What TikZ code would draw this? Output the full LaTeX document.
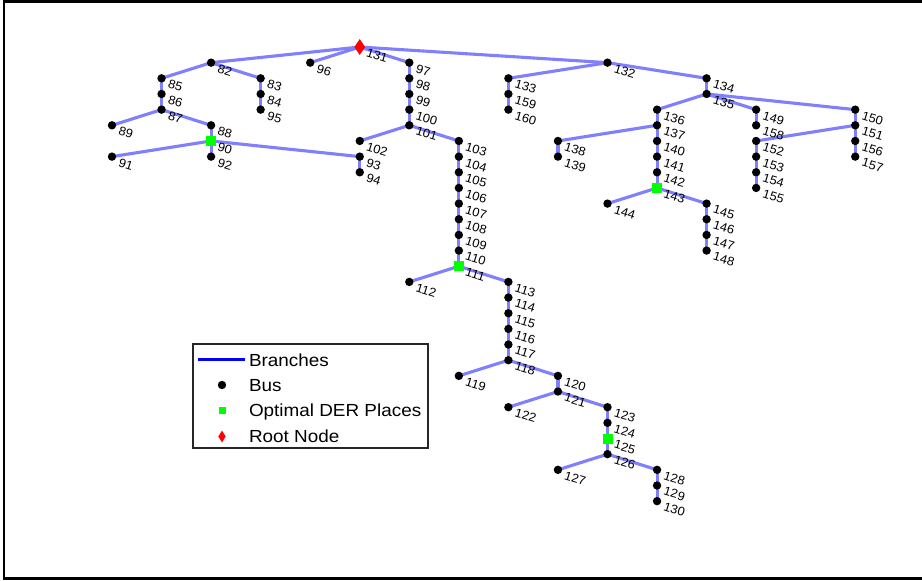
\documentclass[tikz,border=0pt]{standalone}
\usepackage{fontspec}
\setmainfont{Liberation Sans}
\newfontfamily\lblfont[FakeStretch=1.05]{Liberation Sans}
\newfontfamily\legfont[FakeStretch=1.08]{Liberation Sans}
\usetikzlibrary{shapes.geometric}
\pgfdeclarelayer{edges}
\pgfsetlayers{edges,main}
\definecolor{branchcol}{RGB}{128,128,255}
\definecolor{dercol}{RGB}{0,255,0}
\definecolor{rootcol}{RGB}{255,0,0}
\definecolor{legedge}{RGB}{38,38,38}

\begin{document}
\begin{tikzpicture}[x=1pt,y=-1pt,
  bus/.style={circle,fill=black,inner sep=0pt,minimum size=8.4pt},
  der/.style={rectangle,fill=dercol,inner sep=0pt,minimum size=10pt},
  rootnode/.style={diamond,fill=rootcol,inner sep=0pt,minimum width=11pt,minimum height=16pt},
  branch/.style={draw=branchcol,line width=3.1pt},
  lbl/.style={font=\lblfont\fontsize{12.3}{14}\selectfont,anchor=west,inner sep=0pt,rotate=-17},
  legtext/.style={font=\legfont\fontsize{17.5}{20}\selectfont,anchor=base west,inner sep=0pt}]

\useasboundingbox (0,0) rectangle (922,581);
\begin{pgfonlayer}{edges}
\fill[white] (0,0) rectangle (922,581);
\end{pgfonlayer}
% outer frame (open on the right)
\draw[line width=2.4pt] (922,1.3) -- (4.2,1.3) -- (4.2,578.5) -- (922,578.5);

% buses: name / column / layer
\foreach \n/\c/\d in {
  82/2/1, 96/4/1, 97/6/1, 132/10/1,
  85/1/2, 83/3/2, 98/6/2, 133/8/2, 134/12/2,
  86/1/3, 84/3/3, 99/6/3, 159/8/3, 135/12/3,
  87/1/4, 95/3/4, 100/6/4, 160/8/4, 136/11/4, 149/13/4, 150/15/4,
  89/0/5, 88/2/5, 101/6/5, 137/11/5, 158/13/5, 151/15/5,
  102/5/6, 103/7/6, 138/9/6, 140/11/6, 152/13/6, 156/15/6,
  91/0/7, 92/2/7, 93/5/7, 104/7/7, 139/9/7, 141/11/7, 153/13/7, 157/15/7,
  94/5/8, 105/7/8, 142/11/8, 154/13/8,
  106/7/9, 155/13/9,
  107/7/10, 144/10/10, 145/12/10,
  108/7/11, 146/12/11,
  109/7/12, 147/12/12,
  110/7/13, 148/12/13,
  112/6/15, 113/8/15,
  114/8/16, 115/8/17, 116/8/18, 117/8/19, 118/8/20,
  119/7/21, 120/9/21,
  121/9/22,
  122/8/23, 123/10/23,
  124/10/24,
  126/10/26,
  127/9/27, 128/11/27,
  129/11/28,
  130/11/29}
  \node[bus] (n\n) at ({112+49.55*\c},{47+15.66*\d}) {};

% optimal DER places
\foreach \n/\c/\d in {90/2/6, 143/11/9, 111/7/14, 125/10/25}
  \node[der] (n\n) at ({112+49.55*\c},{47+15.66*\d}) {};

% root node
\node[rootnode] (n131) at ({112+49.55*5},47) {};

% bus labels
\foreach \n in {82,83,84,85,86,87,88,89,90,91,92,93,94,95,96,97,98,99,100,
  101,102,103,104,105,106,107,108,109,110,111,112,113,114,115,116,117,118,119,120,
  121,122,123,124,125,126,127,128,129,130,131,132,133,134,135,136,137,138,139,140,
  141,142,143,144,145,146,147,148,149,150,151,152,153,154,155,156,157,158,159,160}
  \node[lbl] (t\n) at ([shift={(6.8,5.3)}]n\n.center) {\n};

% branches
\begin{pgfonlayer}{edges}
\foreach \a/\b in {
  131/82, 131/96, 131/97, 131/132,
  82/85, 82/83, 85/86, 86/87, 87/89, 87/88, 88/90,
  90/91, 90/92, 90/93, 93/94, 83/84, 84/95,
  97/98, 98/99, 99/100, 100/101, 101/102, 101/103,
  103/104, 104/105, 105/106, 106/107, 107/108, 108/109, 109/110, 110/111,
  111/112, 111/113, 113/114, 114/115, 115/116, 116/117, 117/118,
  118/119, 118/120, 120/121, 121/122, 121/123,
  123/124, 124/125, 125/126, 126/127, 126/128, 128/129, 129/130,
  132/133, 132/134, 133/159, 159/160, 134/135,
  135/136, 135/149, 135/150, 136/137, 137/138, 137/140, 138/139,
  140/141, 141/142, 142/143, 143/144, 143/145, 145/146, 146/147, 147/148,
  149/158, 150/151, 151/152, 151/156, 156/157, 152/153, 153/154, 154/155}
  \draw[branch] (n\a.center) -- (n\b.center);
\end{pgfonlayer}

% legend
\node[draw=legedge,line width=2.4pt,fill=white,inner sep=0pt,
      minimum width=234.8pt,minimum height=103.8pt] (legend) at (310.5,396) {};
\coordinate (lgA) at (198,359.5);
\coordinate (lgB) at (245,359.5);
\draw[draw=blue,line width=3.3pt] (lgA) -- (lgB);
\node[legtext] (lgt1) at (248.8,366) {Branches};
\node[bus] (lgbus) at (222,385) {};
\node[legtext] (lgt2) at (248.8,391.3) {Bus};
\node[der,minimum size=7pt] (lgder) at (222,410.5) {};
\node[legtext] (lgt3) at (248.8,416.8) {Optimal DER Places};
\node[rootnode,minimum width=7.5pt,minimum height=12pt] (lgroot) at (222,436.5) {};
\node[legtext] (lgt4) at (248.8,442.8) {Root Node};
\end{tikzpicture}
\end{document}
